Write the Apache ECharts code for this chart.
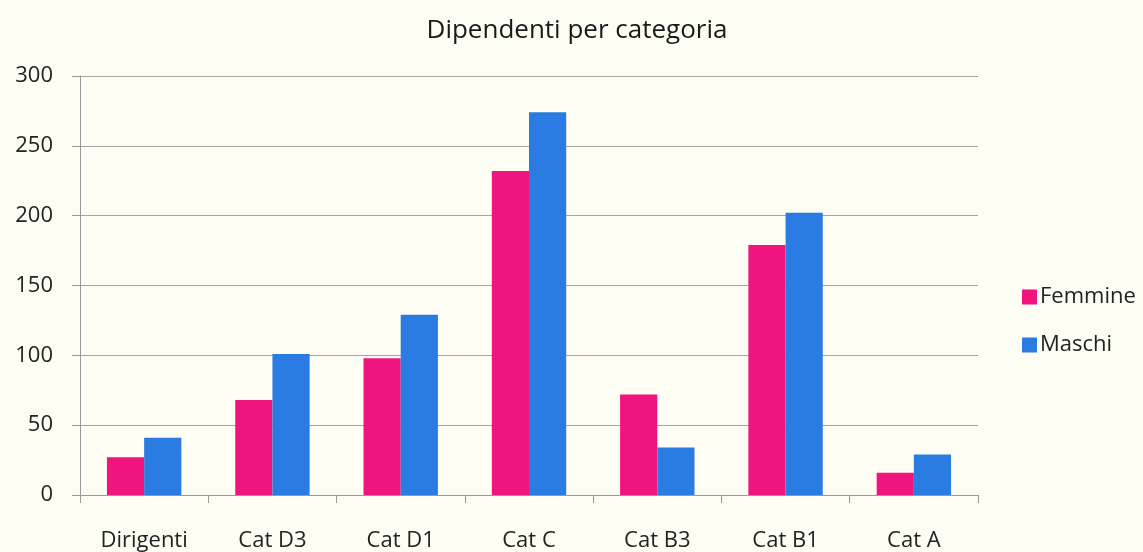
<!DOCTYPE html>
<html><head><meta charset="utf-8">
<script src="https://cdn.jsdelivr.net/npm/echarts@6/dist/echarts.min.js"></script>
<style>html,body{margin:0;padding:0;background:#fdfdf4;}#c{width:1143px;height:552px;}</style>
</head><body><div id="c"></div>
<script>
const categories = ['Dirigenti','Cat D3','Cat D1','Cat C','Cat B3','Cat B1','Cat A'];
const femmine = [27, 68, 98, 232, 72, 179, 16];
const maschi = [41, 101, 129, 274, 34, 202, 29];
const yTicks = {min: 0, max: 300, interval: 50};

const chart = echarts.init(document.getElementById('c'));
const font = '"Open Sans", "Noto Sans", sans-serif';
chart.setOption({
  backgroundColor: '#fdfdf4',
  animation: false,
  title: {text: 'Dipendenti per categoria', left: 572, top: 13, textAlign: 'center',
    textStyle: {fontFamily: font, fontSize: 26, fontWeight: 'normal', color: '#1a1a1a'}},
  legend: {orient: 'vertical', left: 1017, top: 281, itemGap: 26, itemWidth: 15, itemHeight: 15,
    icon: 'rect', textStyle: {fontFamily: font, fontSize: 22, color: '#222', padding: [0,0,0,-2]}},
  grid: {left: 80, right: 165, top: 76, bottom: 53, containLabel: false},
  xAxis: {type: 'category', data: categories,
    axisLine: {lineStyle: {color: '#999'}},
    axisTick: {show: true, length: 8, lineStyle: {color: '#999'}},
    axisLabel: {fontFamily: font, fontSize: 22, color: '#222', margin: 35}},
  yAxis: {type: 'value', min: yTicks.min, max: yTicks.max, interval: yTicks.interval,
    axisLine: {show: true, lineStyle: {color: '#999'}},
    axisTick: {show: true, length: 8, lineStyle: {color: '#999'}},
    axisLabel: {fontFamily: font, fontSize: 22, color: '#222', margin: 27},
    splitLine: {lineStyle: {color: '#aaa2a2', width: 1}}},
  series: [
    {name: 'Femmine', type: 'bar', data: femmine, barWidth: '29%', barGap: '0%', itemStyle: {color: '#f0157e'}},
    {name: 'Maschi', type: 'bar', data: maschi, barWidth: '29%', itemStyle: {color: '#2a7be2'}}
  ]
});
</script></body></html>
